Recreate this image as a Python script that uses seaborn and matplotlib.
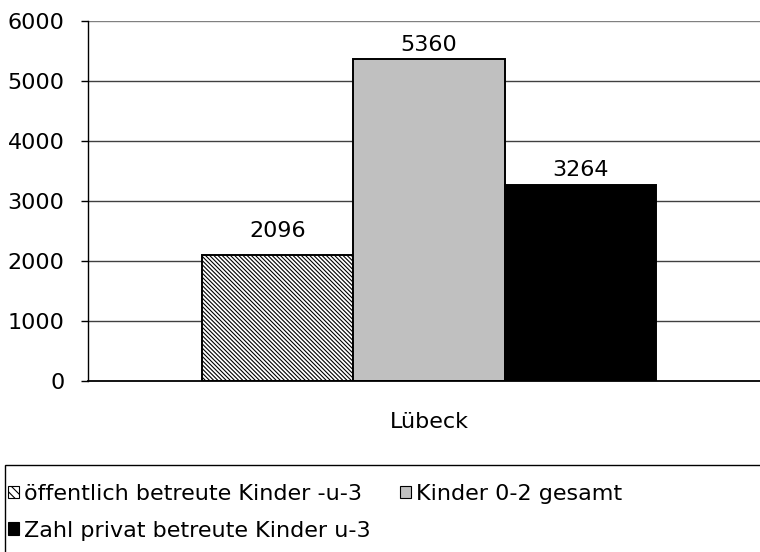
import matplotlib
matplotlib.use('Agg')
import matplotlib.pyplot as plt
import seaborn as sns
import pandas as pd
from matplotlib.patches import Patch, Rectangle

# Daten aus dem Diagramm
stadt = ["Lübeck"]
gruppen = ["öffentlich betreute Kinder -u-3", "Kinder 0-2 gesamt", "Zahl privat betreute Kinder u-3"]
werte = [2096, 5360, 3264]
y_ticks = [0, 1000, 2000, 3000, 4000, 5000, 6000]

farben = ["white", "#c0c0c0", "black"]
schraffur = ["\\" * 8, "", ""]

df = pd.DataFrame({"stadt": stadt * len(gruppen), "gruppe": gruppen, "wert": werte})

sns.set_style("white")
plt.rcParams['font.family'] = ['DejaVu Sans']
plt.rcParams['text.color'] = 'black'
plt.rcParams['xtick.color'] = 'black'
plt.rcParams['ytick.color'] = 'black'
plt.rcParams['hatch.color'] = '#8c8c8c'
plt.rcParams['hatch.linewidth'] = 0.8

FS = 16

fig = plt.figure(figsize=(7.6, 5.52), dpi=100)
ax = fig.add_axes([88 / 760, 171 / 552, 682 / 760, 360 / 552])

sns.barplot(data=df, x="stadt", y="wert", hue="gruppe", hue_order=gruppen,
            palette=farben, width=0.666, edgecolor="black", linewidth=1.4,
            legend=False, ax=ax)

for patch, h in zip(ax.patches, schraffur):
    if h:
        patch.set_hatch(h)

# Excel setzt das erste Label etwas hoeher
for cont, pad in zip(ax.containers, [10, 3.5, 3.5]):
    ax.bar_label(cont, fmt="%d", padding=pad, fontsize=FS, color="black")

ax.set_xlim(-0.5, 0.5)
ax.set_ylim(0, 6000)
ax.set_yticks(y_ticks)
ax.set_xlabel("")
ax.set_ylabel("")
ax.tick_params(axis="y", labelsize=FS, length=5, width=1, color="black", pad=12, direction="out", left=True)
ax.tick_params(axis="x", labelsize=FS, length=0, pad=22)

# Gitterlinien
for t in y_ticks[1:]:
    ax.axhline(t, color="#808080" if t == 6000 else "#404040", linewidth=1, zorder=0)

for side in ["top", "right"]:
    ax.spines[side].set_visible(False)
ax.spines["left"].set_color("black")
ax.spines["left"].set_linewidth(1)
ax.spines["bottom"].set_color("black")
ax.spines["bottom"].set_linewidth(1.3)

# Legende mit eigenem Rahmen
handles = [Patch(facecolor=f, edgecolor="black", hatch=h, linewidth=0.8)
           for f, h in zip(farben, ["\\\\\\\\", "", ""])]
order = [0, 2, 1]
fig.legend([handles[i] for i in order], [gruppen[i] for i in order],
           loc="upper left", bbox_to_anchor=(8 / 760, 1 - 484 / 552),
           ncol=2, frameon=False, fontsize=FS, borderpad=0, borderaxespad=0,
           handlelength=0.5, handleheight=0.5, handletextpad=0.2,
           labelspacing=0.75, columnspacing=1.35)
fig.add_artist(Rectangle((5 / 760, -0.05), 1.0, 0.05 + (552 - 465) / 552,
                         transform=fig.transFigure, fill=False,
                         edgecolor="black", linewidth=1))

plt.savefig("out.png", dpi=100)
plt.close()
